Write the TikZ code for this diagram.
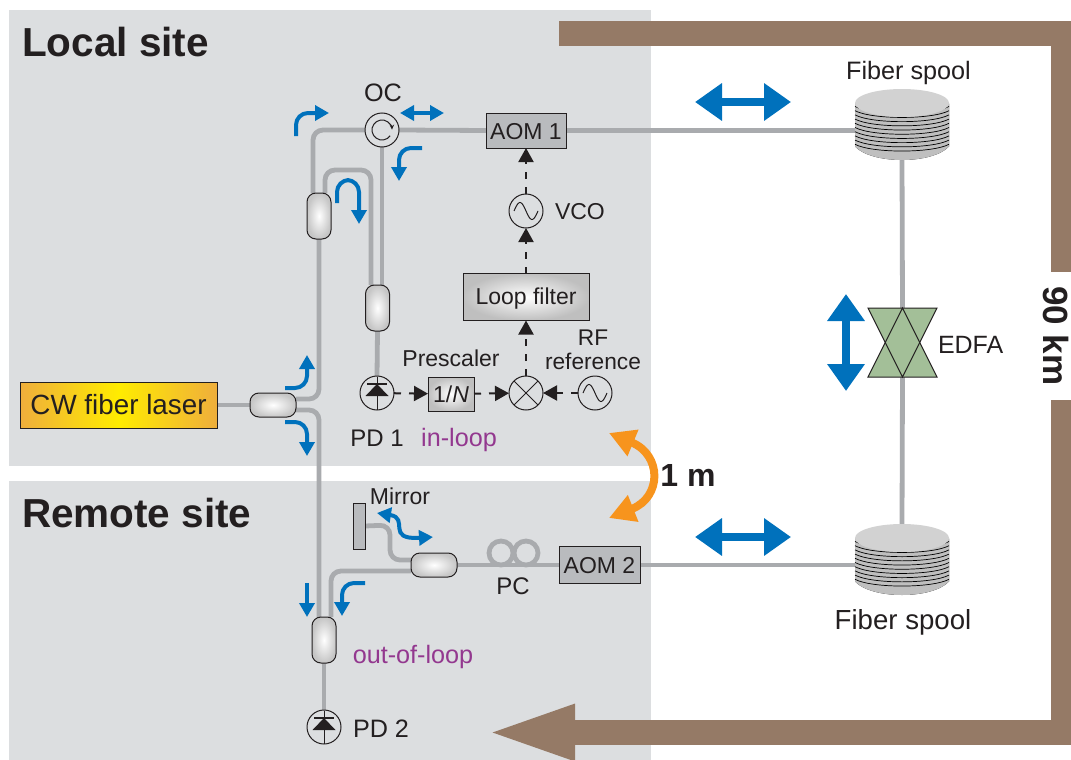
\documentclass[tikz,border=0pt]{standalone}
\usepackage{fontspec}
\setmainfont{Liberation Sans}
\usetikzlibrary{arrows.meta}
\definecolor{zonegray}{HTML}{DCDEE0}
\definecolor{fibergray}{HTML}{A9ABAE}
\definecolor{boxgray}{HTML}{B9BBBE}
\definecolor{linkbrown}{HTML}{957A66}
\definecolor{arrowblue}{HTML}{0071BC}
\definecolor{bendorange}{HTML}{F7941D}
\definecolor{laserorange}{HTML}{EFAE3C}
\definecolor{edfagreen}{HTML}{A3BF98}
\definecolor{loopviolet}{HTML}{93388F}
\definecolor{inkblack}{HTML}{231F20}
\pgfdeclarelayer{fiber}
\pgfsetlayers{fiber,main}
\tikzset{
    lab/.style={font=\fontsize{#1}{#1}\selectfont, text=inkblack, inner sep=0pt, outer sep=0pt},
    lab/.default=24,
    head/.style={font=\fontsize{#1}{#1}\selectfont\bfseries, text=inkblack, inner sep=0pt, outer sep=0pt},
    fib/.style={draw=fibergray, line width=4.8pt, rounded corners=10pt},
    link/.style={draw=linkbrown, line width=25pt, line join=miter},
    blu/.style={draw=arrowblue, line width=4pt, rounded corners=12pt},
    bigblu/.style={draw=arrowblue, line width=8pt, {Triangle[length=27pt,width=36pt]}-{Triangle[length=27pt,width=36pt]}},
    ctrl/.style={draw=inkblack, line width=2pt, dash pattern=on 7pt off 8pt, -{Triangle[length=14pt,width=15pt]}},
    cplh/.style={draw=inkblack, line width=1pt, rounded corners=9pt, minimum width=46pt, minimum height=24pt, inner sep=0pt, outer sep=0pt, inner color=white, outer color=gray!45},
    cplv/.style={cplh, minimum width=24pt, minimum height=46pt},
    box/.style={draw=inkblack, line width=1pt, fill=boxgray, inner sep=0pt, outer sep=0pt, lab=23},
    glow/.style={draw=inkblack, line width=1pt, inner color=white, outer color=gray!50, inner sep=0pt, outer sep=0pt, lab=23},
    rnd/.style={circle, draw=inkblack, line width=1pt, minimum size=34pt, inner sep=0pt, outer sep=0pt},
    pcloop/.style={circle, draw=fibergray, line width=4.8pt, minimum size=24pt, inner sep=0pt, outer sep=0pt},
}
\newcommand{\sinewave}[1]{
    \begin{scope}[shift={(#1.center)}]
        \draw[inkblack, line width=1pt] plot[domain=-12:12, samples=25, smooth] (\x,{8.5*sin(15*\x)});
    \end{scope}
}
\newcommand{\diode}[1]{
    \begin{scope}[shift={(#1.center)}]
        \draw[inkblack, line width=1pt] (0,-16.5) -- (0,16.5);
        \fill[inkblack] (-11.5,3) -- (11.5,3) -- (0,-9) -- cycle;
        \draw[inkblack, line width=1.2pt] (-10,-9) -- (10,-9);
    \end{scope}
}
\newcommand{\fiberspool}[1]{
    \begin{scope}[shift={(#1.center)}]
        \fill[left color=gray!50, middle color=gray!5, right color=gray!50] (-47,-21) -- (-47,22) .. controls (-30,40) and (30,40) .. (47,22) -- (47,-21) -- cycle;
        \foreach \y in {0,...,9}
            \draw[black, line width=0.7pt] (-47,{-18+\y*4.2}) .. controls (-30,{-9+\y*4.2}) and (30,{-9+\y*4.2}) .. (47,{-18+\y*4.2});
        \fill[gray!35!white] (0,-21.5) ellipse [x radius=47, y radius=14];
    \end{scope}
}
\newcommand{\edfashape}[1]{
    \begin{scope}[shift={(#1.center)}]
        \fill[edfagreen] (-34.5,-34.5) -- (34.5,-34.5) -- (0,34.5) -- cycle;
        \fill[edfagreen] (-34.5,34.5) -- (34.5,34.5) -- (0,-34.5) -- cycle;
        \draw[inkblack, line width=1pt] (-34.5,-34.5) -- (34.5,-34.5) -- (0,34.5) -- cycle;
        \draw[inkblack, line width=1pt] (-34.5,34.5) -- (34.5,34.5) -- (0,-34.5) -- cycle;
    \end{scope}
}
\begin{document}
\begin{tikzpicture}[x=1pt,y=-1pt]
    \useasboundingbox (0,0) rectangle (1071,760);

    % components
    \node[draw=inkblack, line width=1pt, left color=laserorange, right color=laserorange, middle color=yellow!85!orange, minimum width=197pt, minimum height=46pt, inner sep=0pt, outer sep=0pt, lab=27.8] (laser) at (118.5,405) {CW fiber laser};
    \node[cplh] (cpla) at (273,405) {};
    \node[cplv] (cplb) at (319,216) {};
    \node[cplv] (cplc) at (377.5,308) {};
    \node[cplv] (cpld) at (324,640) {};
    \node[cplh] (cple) at (434,565) {};
    \node[rnd] (oc) at (382,130) {};
    \node[rnd] (pda) at (377,393) {};
    \node[rnd] (pdb) at (324,727) {};
    \node[rnd] (vco) at (526,211) {};
    \node[rnd] (mixer) at (526,393) {};
    \node[rnd] (refosc) at (595,393) {};
    \node[box, minimum width=80pt, minimum height=35pt, text height=18pt] (aoma) at (526,130.5) {AOM 1};
    \node[box, minimum width=81pt, minimum height=37pt, text height=18pt] (aomb) at (599.5,565) {AOM 2};
    \node[glow, minimum width=126pt, minimum height=47pt, text height=20pt] (filt) at (526,297) {Loop filter};
    \node[glow, minimum width=46pt, minimum height=34pt] (ndiv) at (451,394) {1/\textit{N}};
    \node[draw=inkblack, line width=1pt, fill=boxgray, minimum width=12pt, minimum height=46pt, inner sep=0pt, outer sep=0pt] (mirror) at (359,526) {};
    \node[pcloop] (pca) at (501,553) {};
    \node[pcloop] (pcb) at (526,553) {};
    \node[minimum width=94pt, minimum height=71pt, inner sep=0pt, outer sep=0pt] (spoola) at (902,124.5) {};
    \node[minimum width=94pt, minimum height=71pt, inner sep=0pt, outer sep=0pt] (spoolb) at (902,559.5) {};
    \node[minimum width=69pt, minimum height=69pt, inner sep=0pt, outer sep=0pt] (edfa) at (902.5,342.5) {};
    \coordinate (turnc) at (348,170);
    \coordinate (turnm) at (390,525);

    \begin{pgfonlayer}{fiber}
        \fill[zonegray] (9,10) rectangle (651,466);
        \fill[zonegray] (9,481) rectangle (651,760);
        \draw[link] (559,33.5) -- (1063.5,33.5) -- (1063.5,272);
        \draw[link, -{Triangle[length=93pt,width=49pt]}] (1063.5,400) -- (1063.5,732.5) -- (482,732.5);
        \draw[fib] (laser.east) -- (cpla.west);
        \draw[fib] ([yshift=6pt]cpla.east) -| (cplb.south);
        \draw[fib] ([yshift=-5pt]cpla.east) -| ([xshift=-5pt]cpld.north);
        \draw[fib] ([xshift=-6pt]cplb.north) |- (oc.west);
        \draw[fib] ([xshift=6pt]cplb.north) |- (turnc) -| ([xshift=-6.5pt]cplc.north);
        \draw[fib] ([xshift=4.5pt]cplc.north) -- (oc.south);
        \draw[fib] (cplc.south) -- (pda.north);
        \draw[fib] (oc.east) -- (aoma.west);
        \draw[fib] (aoma.east) -- (aoma.east -| spoola.west);
        \draw[fib] (spoola.south) -- (edfa.north);
        \draw[fib] (edfa.south) -- (spoolb.north);
        \draw[fib] (aomb.east) -- (aomb.east -| spoolb.west);
        \draw[fib] (cple.east) -- (aomb.west);
        \draw[fib] ([xshift=7pt]cpld.north) |- ([yshift=-6pt]cple.west);
        \draw[fib] ([yshift=5pt]cple.west) -| (turnm) -- (mirror.east);
        \draw[fib] (cpld.south) -- (pdb.north);
    \end{pgfonlayer}

    % symbols inside the nodes
    \diode{pda}
    \diode{pdb}
    \sinewave{vco}
    \sinewave{refosc}
    \fiberspool{spoola}
    \fiberspool{spoolb}
    \edfashape{edfa}
    \draw[inkblack, line width=1pt] (mixer.north west) -- (mixer.south east);
    \draw[inkblack, line width=1pt] (mixer.north east) -- (mixer.south west);
    \draw[inkblack, line width=1pt, -{Stealth[length=5pt,width=4.5pt]}] ([shift={(-35:10pt)}]oc.center) arc[start angle=-35, end angle=-358, radius=10pt];

    % control lines
    \draw[ctrl] (pda) -- (ndiv);
    \draw[ctrl] (ndiv) -- (mixer);
    \draw[ctrl] (refosc) -- (mixer);
    \draw[ctrl] (mixer) -- (filt);
    \draw[ctrl] (filt) -- (vco);
    \draw[ctrl] (vco) -- (aoma);

    % direction arrows
    \draw[blu, -{Triangle[length=14pt,width=15pt]}] (296,136) -- (296,113) -- (329,113);
    \draw[blu, {Triangle[length=14pt,width=15pt]}-{Triangle[length=14pt,width=15pt]}] (400,113) -- (444,113);
    \draw[blu, -{Triangle[length=14pt,width=15pt]}] (422,148) -- (399,148) -- (399,181);
    \draw[blu, -{Triangle[length=14pt,width=15pt]}] (337,203) -- (337,180) -- (359,180) -- (359,224);
    \draw[blu, -{Triangle[length=14pt,width=15pt]}] (285,388) -- (307,388) -- (307,355);
    \draw[blu, -{Triangle[length=14pt,width=15pt]}] (285,422) -- (307,422) -- (307,456);
    \draw[blu, -{Triangle[length=14pt,width=15pt]}] (307,583) -- (307,617);
    \draw[blu, -{Triangle[length=14pt,width=15pt]}] (365,583) -- (342,583) -- (342,616);
    \draw[blu, {Triangle[length=14pt,width=15pt]}-{Triangle[length=14pt,width=15pt]}] (377,513) .. controls (410,518) and (385,540) .. (433,537);
    \draw[bigblu] (695,102) -- (791,102);
    \draw[bigblu] (695,537) -- (791,537);
    \draw[bigblu] (846,294) -- (846,391);
    \draw[draw=bendorange, line width=8pt, {Triangle[length=26pt,width=27pt]}-{Triangle[length=26pt,width=27pt]}] (609,433) .. controls (662,455) and (662,497) .. (609,518);

    % labels
    \node[head=40.5, anchor=base west] (localt) at (22,57) {Local site};
    \node[head=40.5, anchor=base west] (remotet) at (22,527) {Remote site};
    \node[head=32, anchor=base] (lenl) at (688,486) {1 m};
    \node[head=35, anchor=base, rotate=-90] (kml) at (1043,336) {90 km};
    \node[lab=25.2, anchor=base] (ocl) at (383,102) {OC};
    \node[lab=25.2, anchor=base] (spoolal) at (908.5,79) {Fiber spool};
    \node[lab=27.6, anchor=base] (spoolbl) at (903,629) {Fiber spool};
    \node[lab=23, anchor=base west] (vcol) at (555,219) {VCO};
    \node[lab=23, anchor=base] (prel) at (451,366) {Prescaler};
    \node[lab=22.7, anchor=base] (rfl) at (593,345) {RF};
    \node[lab=22.7, anchor=base] (refl) at (593,369) {reference};
    \node[lab=24, anchor=base] (pdal) at (377,446) {PD 1};
    \node[lab=25.2, anchor=base, text=loopviolet] (inl) at (459,446) {in-loop};
    \node[lab=25, anchor=base west] (edfal) at (938,353) {EDFA};
    \node[lab=23, anchor=base] (mirl) at (400,504) {Mirror};
    \node[lab=24, anchor=base] (pcl) at (513,594) {PC};
    \node[lab=25.2, anchor=base, text=loopviolet] (outl) at (413,663) {out-of-loop};
    \node[lab=25.2, anchor=base west] (pdbl) at (353,737) {PD 2};
\end{tikzpicture}
\end{document}
